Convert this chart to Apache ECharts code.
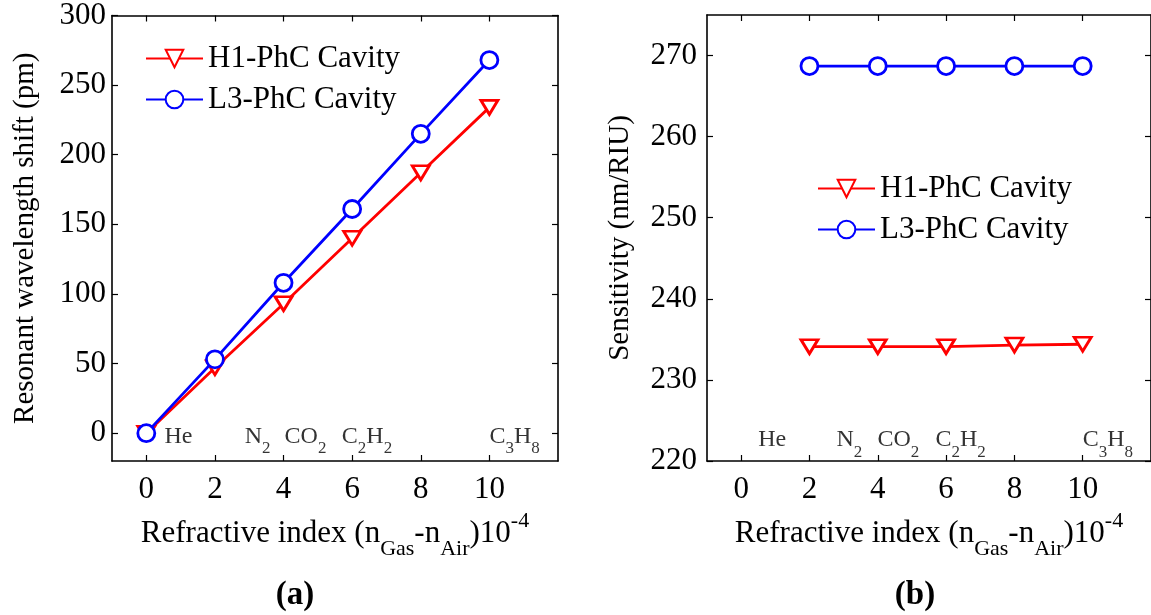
<!DOCTYPE html>
<html>
<head>
<meta charset="utf-8">
<script src="https://cdn.jsdelivr.net/npm/echarts@6/dist/echarts.min.js"></script>
<style>
  html, body { margin: 0; padding: 0; background: #fff; }
  #chart { width: 1151px; height: 615px; }
</style>
</head>
<body>
<div id="chart"></div>
<script>
// ---- data ----
const xValues = [0, 2, 4, 6, 8, 10];
const shiftH1 = [0, 47, 93, 140, 187, 234];
const shiftL3 = [0, 53, 108, 161, 215, 268];
const sensX = [2, 4, 6, 8, 10];
const sensH1 = [234.1, 234.1, 234.1, 234.3, 234.4];
const sensL3 = [268.7, 268.7, 268.7, 268.7, 268.7];
const xTicks = [0, 2, 4, 6, 8, 10];
const shiftTicks = [0, 50, 100, 150, 200, 250, 300];
const sensTicks = [220, 230, 240, 250, 260, 270];
const gasNames = ['He', 'N2', 'CO2', 'C2H2', 'C3H8'];
const gasXLeft = [0.53, 2.87, 4.03, 5.70, 10.0];
const gasYLeft = -3.0;
const gasXRight = [0.5, 2.79, 3.99, 5.69, 10.0];
const gasYRight = 222.5;
const seriesNames = ['H1-PhC Cavity', 'L3-PhC Cavity'];
const xTitle = ['Refractive index (n', 'Gas', '-n', 'Air', ')10', '-4'];
const yTitleLeft = 'Resonant wavelength shift (pm)';
const yTitleRight = 'Sensitivity (nm/RIU)';
const panelLabels = ['(a)', '(b)'];

const FONT = "'Liberation Serif', 'Times New Roman', serif";
const RED = '#ff0000';
const BLUE = '#0000ff';

function pairs(xs, ys) { return xs.map((x, i) => [x, ys[i]]); }

function gasRich(name) {
  return name.replace(/([A-Za-z]+)|(\d+)/g, (m, letters, digits) =>
    letters ? '{m|' + letters + '}' : '{s|' + digits + '}');
}

const xTitleRich = '{a|' + xTitle[0] + '}{s|' + xTitle[1] + '}{a|' + xTitle[2] + '}{s|' + xTitle[3] + '}{a|' + xTitle[4] + '}{p|' + xTitle[5] + '}';

const xNameStyle = {
  fontFamily: FONT,
  color: '#000',
  rich: {
    a: { fontFamily: FONT, fontSize: 31, lineHeight: 34, padding: [8, 0, 0, 0], verticalAlign: 'top', color: '#000' },
    s: { fontFamily: FONT, fontSize: 22, lineHeight: 24, padding: [28, 0, 0, 0], verticalAlign: 'top', color: '#000' },
    p: { fontFamily: FONT, fontSize: 22, lineHeight: 24, padding: [0, 0, 0, 0], verticalAlign: 'top', color: '#000' }
  }
};

const gasRichStyle = {
  m: { fontFamily: FONT, fontSize: 24, lineHeight: 26, verticalAlign: 'top', color: '#000' },
  s: { fontFamily: FONT, fontSize: 17, lineHeight: 18, padding: [16, 0, 0, 0], verticalAlign: 'top', color: '#000' }
};

const axisLine = { show: true, onZero: false, lineStyle: { color: '#000', width: 1.6 } };
const tickStyle = { show: true, inside: true, length: 6, lineStyle: { color: '#000', width: 1.2 } };

function xAxisPair(gridIndex) {
  return [
    {
      type: 'value', gridIndex, position: 'bottom', min: -1, max: 12,
      axisLine, splitLine: { show: false },
      axisTick: Object.assign({ customValues: xTicks }, tickStyle),
      axisLabel: { customValues: xTicks, fontFamily: FONT, fontSize: 31, color: '#000', margin: 13 },
      name: xTitleRich, nameLocation: 'middle', nameGap: 45, nameTextStyle: xNameStyle
    },
    {
      type: 'value', gridIndex, position: 'top', min: -1, max: 12,
      axisLine, splitLine: { show: false },
      axisTick: Object.assign({ customValues: xTicks }, tickStyle),
      axisLabel: { show: false }
    }
  ];
}

function yAxisPair(gridIndex, min, max, ticks, title, gap, labelMargin) {
  return [
    {
      type: 'value', gridIndex, position: 'left', min, max,
      axisLine, splitLine: { show: false },
      axisTick: Object.assign({ customValues: ticks }, tickStyle),
      axisLabel: { customValues: ticks, fontFamily: FONT, fontSize: 31, color: '#000', margin: labelMargin },
      name: title, nameLocation: 'middle', nameGap: gap,
      nameTextStyle: { fontFamily: FONT, fontSize: 29, color: '#000' }
    },
    {
      type: 'value', gridIndex, position: 'right', min, max,
      axisLine, splitLine: { show: false },
      axisTick: Object.assign({ customValues: ticks }, tickStyle),
      axisLabel: { show: false }
    }
  ];
}

function lineSeries(name, data, xi, yi, isH1) {
  return {
    name, type: 'line', xAxisIndex: xi, yAxisIndex: yi, data,
    symbol: isH1 ? 'triangle' : 'circle',
    symbolSize: isH1 ? [17, 14] : 17,
    symbolRotate: isH1 ? 180 : 0,
    showAllSymbol: true,
    lineStyle: { color: isH1 ? RED : BLUE, width: 2.8 },
    itemStyle: { color: '#fff', borderColor: isH1 ? RED : BLUE, borderWidth: 2.8 },
    color: isH1 ? RED : BLUE,
    emphasis: { disabled: true },
    z: isH1 ? 2 : 3,
    animation: false
  };
}

function gasSeries(xs, y, xi, yi) {
  return {
    type: 'scatter', xAxisIndex: xi, yAxisIndex: yi,
    data: xs.map((x, i) => ({ value: [x, y], name: gasNames[i] })),
    symbolSize: 0, silent: true, animation: false,
    label: {
      show: true, position: 'right', distance: 0,
      formatter: p => gasRich(p.name),
      rich: gasRichStyle
    }
  };
}

const legendCommon = {
  orient: 'vertical', itemWidth: 57, itemHeight: 22, itemGap: 10, padding: 0,
  selectedMode: false,
  data: seriesNames,
  textStyle: { fontFamily: FONT, fontSize: 31, color: '#000', lineHeight: 28 }
};

const option = {
  backgroundColor: '#fff',
  animation: false,
  title: [
    { text: panelLabels[0], left: 295, top: 579, textAlign: 'center', padding: 0,
      textStyle: { fontFamily: FONT, fontSize: 33, fontWeight: 'bold', color: '#000' } },
    { text: panelLabels[1], left: 915, top: 579, textAlign: 'center', padding: 0,
      textStyle: { fontFamily: FONT, fontSize: 33, fontWeight: 'bold', color: '#000' } }
  ],
  legend: [
    Object.assign({ left: 145, top: 43 }, legendCommon),
    Object.assign({ left: 817, top: 173 }, legendCommon)
  ],
  grid: [
    { left: 112, top: 15, width: 446, height: 446 },
    { left: 707, top: 15, width: 445, height: 446 }
  ],
  xAxis: [...xAxisPair(0), ...xAxisPair(1)],
  yAxis: [
    ...yAxisPair(0, -20, 300, shiftTicks, yTitleLeft, 72, 6),
    ...yAxisPair(1, 220, 275, sensTicks, yTitleRight, 72, 10)
  ],
  series: [
    lineSeries(seriesNames[0], pairs(xValues, shiftH1), 0, 0, true),
    lineSeries(seriesNames[1], pairs(xValues, shiftL3), 0, 0, false),
    lineSeries(seriesNames[0], pairs(sensX, sensH1), 2, 2, true),
    lineSeries(seriesNames[1], pairs(sensX, sensL3), 2, 2, false),
    gasSeries(gasXLeft, gasYLeft, 0, 0),
    gasSeries(gasXRight, gasYRight, 2, 2)
  ]
};

const chart = echarts.init(document.getElementById('chart'), null, { renderer: 'canvas' });
chart.setOption(option);
</script>
</body>
</html>
